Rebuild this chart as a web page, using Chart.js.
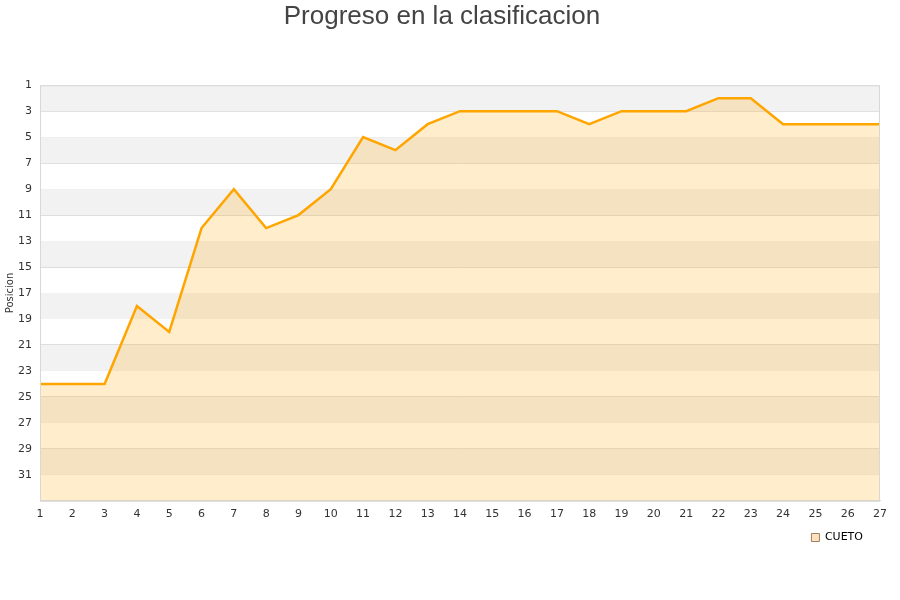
<!DOCTYPE html>
<html>
<head>
<meta charset="utf-8">
<script src="https://cdn.jsdelivr.net/npm/chart.js@4/dist/chart.umd.min.js"></script>
<style>
  html, body { margin: 0; padding: 0; background: #fff; }
</style>
</head>
<body>
<canvas id="chart" width="900" height="600"></canvas>
<script>
// jornadas y posicion del equipo
const jornadas = [1, 2, 3, 4, 5, 6, 7, 8, 9, 10, 11, 12, 13, 14, 15, 16, 17, 18, 19, 20, 21, 22, 23, 24, 25, 26, 27];
const posiciones = [24, 24, 24, 18, 20, 12, 9, 12, 11, 9, 5, 6, 4, 3, 3, 3, 3, 4, 3, 3, 3, 2, 2, 4, 4, 4, 4];
const equipo = 'CUETO';
const yMin = 1;
const yMax = 33;

// bandas alternas grises en el fondo
const bandPlugin = {
    id: 'bands',
    beforeDatasetsDraw(chart) {
        const ctx = chart.ctx;
        const area = chart.chartArea;
        const y = chart.scales.y;
        ctx.save();
        ctx.fillStyle = '#f2f2f2';
        for (let v = yMin; v < yMax; v += 4) {
            const top = y.getPixelForValue(v);
            const bottom = y.getPixelForValue(Math.min(v + 2, yMax));
            ctx.fillRect(area.left, top, area.right - area.left, bottom - top);
        }
        ctx.restore();
    }
};

// subir un poco la leyenda, pegada a las etiquetas del eje
const legendShift = {
    id: 'legendShift',
    afterLayout(chart) {
        if (chart.legend) {
            chart.legend.top -= 13;
            chart.legend.bottom -= 13;
        }
    }
};

const ctx = document.getElementById('chart').getContext('2d');
new Chart(ctx, {
    type: 'line',
    data: {
        labels: jornadas,
        datasets: [{
            label: equipo,
            data: posiciones,
            borderColor: '#ffa500',
            backgroundColor: 'rgba(255, 165, 0, 0.2)',
            borderWidth: 2.5,
            pointRadius: 0,
            tension: 0,
            fill: { value: yMax }
        }]
    },
    options: {
        responsive: false,
        animation: false,
        layout: { padding: { left: 4, right: 20, top: 0, bottom: 34 } },
        plugins: {
            title: {
                display: true,
                text: 'Progreso en la clasificacion',
                color: '#444',
                font: { family: 'Liberation Sans, Arial, sans-serif', size: 26, weight: 'normal' },
                padding: { top: 1, bottom: 53 }
            },
            legend: {
                position: 'bottom',
                align: 'end',
                labels: {
                    boxWidth: 8,
                    boxHeight: 8,
                    padding: 17,
                    color: '#000',
                    font: { family: 'DejaVu Sans, sans-serif', size: 11 },
                    generateLabels(chart) {
                        return [{
                            text: equipo,
                            fillStyle: '#fde2bd',
                            strokeStyle: '#a08060',
                            lineWidth: 1,
                            datasetIndex: 0
                        }];
                    }
                }
            },
            tooltip: { enabled: false }
        },
        scales: {
            x: {
                offset: false,
                grid: { display: false, drawTicks: false },
                border: { color: '#d8d8d8' },
                ticks: {
                    color: '#333',
                    font: { family: 'DejaVu Sans, sans-serif', size: 11 },
                    maxRotation: 0,
                    autoSkip: false,
                    padding: 7
                }
            },
            y: {
                reverse: true,
                min: yMin,
                max: yMax,
                afterFit(scale) { scale.width = 36; },
                grid: { color: '#dddddd', drawTicks: false },
                border: { color: '#d8d8d8' },
                ticks: {
                    stepSize: 2,
                    color: '#333',
                    padding: 8,
                    font: { family: 'DejaVu Sans, sans-serif', size: 11 },
                    callback: v => (v === yMax ? '' : v)
                },
                title: {
                    display: true,
                    text: 'Posicion',
                    color: '#333',
                    font: { family: 'DejaVu Sans, sans-serif', size: 10 },
                    padding: 0
                }
            }
        }
    },
    plugins: [bandPlugin, legendShift, {
        id: 'frame',
        afterDraw(chart) {
            const a = chart.chartArea;
            const c = chart.ctx;
            c.save();
            c.strokeStyle = '#d8d8d8';
            c.lineWidth = 1;
            c.strokeRect(a.left + 0.5, a.top + 0.5, a.right - a.left - 1, a.bottom - a.top);
            c.restore();
        }
    }]
});
</script>
</body>
</html>
